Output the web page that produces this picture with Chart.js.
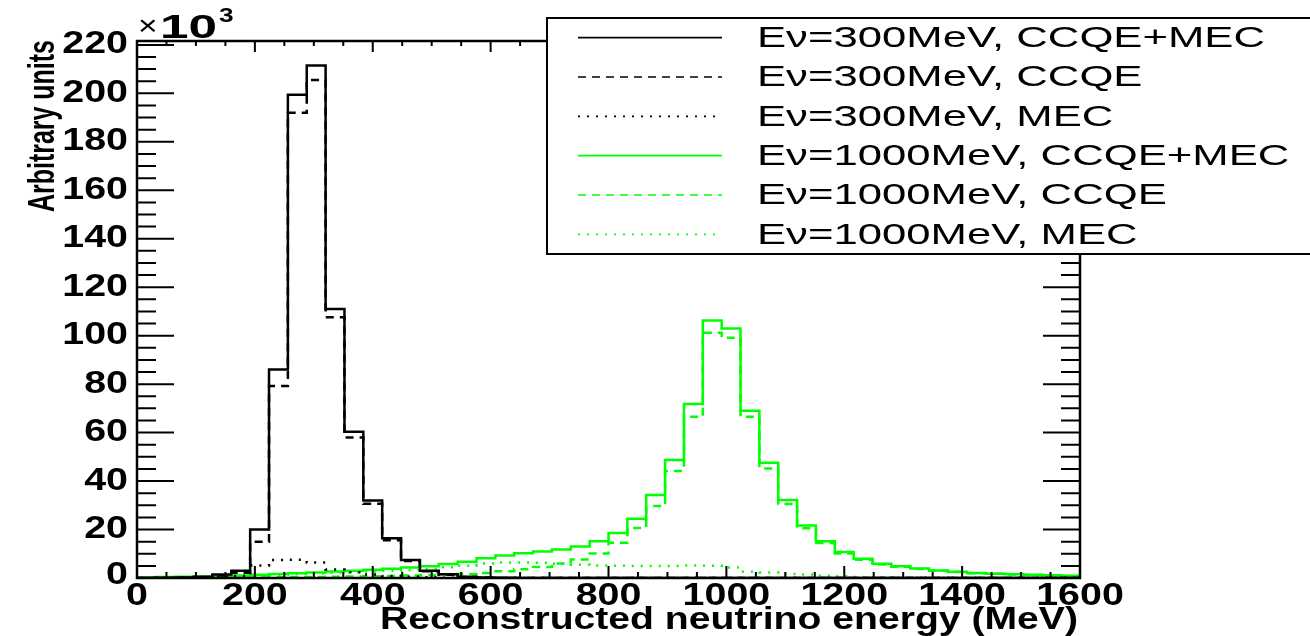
<!DOCTYPE html>
<html>
<head>
<meta charset="utf-8">
<script src="https://cdn.jsdelivr.net/npm/chart.js@4.4.1/dist/chart.umd.min.js"></script>
<style>
  body { margin: 0; background: #fff; }
  canvas { display: block; }
</style>
</head>
<body>
<canvas id="spectrum" width="1310" height="636"></canvas>
<script>
// bin edges of the reconstructed energy histograms (MeV), 50 bins of 32 MeV
const binEdges = [0, 32, 64, 96, 128, 160, 192, 224, 256, 288, 320, 352, 384, 416, 448, 480,
  512, 544, 576, 608, 640, 672, 704, 736, 768, 800, 832, 864, 896, 928, 960, 992,
  1024, 1056, 1088, 1120, 1152, 1184, 1216, 1248, 1280, 1312, 1344, 1376, 1408, 1440,
  1472, 1504, 1536, 1568, 1600];

// bin contents, units of 10^3
const e300Total = [0, 0.1, 0.2, 0.5, 1.4, 3.0, 20.0, 86.0, 199.4, 211.5,
  111.0, 60.4, 32.0, 16.4, 7.4, 3.0, 1.5, 0.5, 0.2, 0.1,
  0, 0, 0, 0, 0, 0, 0, 0, 0, 0, 0, 0, 0, 0, 0, 0, 0, 0, 0, 0,
  0, 0, 0, 0, 0, 0, 0, 0, 0, 0];
const e300Ccqe = [0, 0.05, 0.15, 0.3, 1.0, 2.2, 15.0, 79.2, 192.0, 205.5,
  107.6, 58.0, 30.6, 15.6, 7.0, 2.8, 1.35, 0.45, 0.15, 0.05,
  0, 0, 0, 0, 0, 0, 0, 0, 0, 0, 0, 0, 0, 0, 0, 0, 0, 0, 0, 0,
  0, 0, 0, 0, 0, 0, 0, 0, 0, 0];
const e300Mec = [0, 0.02, 0.05, 0.2, 0.4, 0.8, 5.2, 7.4, 7.5, 6.4,
  3.5, 2.4, 1.4, 0.8, 0.5, 0.3, 0.15, 0.08, 0.04, 0.02,
  0, 0, 0, 0, 0, 0, 0, 0, 0, 0, 0, 0, 0, 0, 0, 0, 0, 0, 0, 0,
  0, 0, 0, 0, 0, 0, 0, 0, 0, 0];

const e1000Total = [0.3, 0.4, 0.5, 0.6, 0.8, 1.0, 1.3, 1.6, 2.0, 2.3,
  2.7, 3.0, 3.4, 3.8, 4.3, 4.9, 5.8, 6.7, 8.1, 9.3,
  10.2, 10.9, 11.8, 13.0, 15.2, 18.6, 24.5, 34.2, 48.7, 71.8,
  106.3, 103.0, 69.0, 47.6, 32.2, 21.7, 15.2, 10.7, 7.9, 5.9,
  4.8, 3.9, 3.1, 2.6, 2.1, 1.8, 1.5, 1.3, 1.1, 0.9];
const e1000Ccqe = [0.05, 0.08, 0.1, 0.12, 0.15, 0.2, 0.25, 0.3, 0.4, 0.45,
  0.55, 0.65, 0.75, 0.85, 1.0, 1.2, 1.4, 1.6, 2.1, 2.8,
  3.6, 4.5, 6.0, 7.6, 10.1, 14.5, 20.6, 29.7, 44.2, 66.5,
  101.2, 99.1, 66.5, 45.2, 30.5, 20.5, 14.4, 10.1, 7.5, 5.6,
  4.6, 3.75, 3.0, 2.5, 2.0, 1.75, 1.45, 1.25, 1.05, 0.87];
const e1000Mec = [0.25, 0.32, 0.4, 0.48, 0.65, 0.8, 1.05, 1.3, 1.6, 1.85,
  2.15, 2.35, 2.65, 2.95, 3.3, 3.7, 4.4, 5.1, 6.0, 6.4,
  6.4, 6.3, 5.9, 5.5, 5.2, 5.1, 5.0, 5.0, 5.0, 5.2,
  5.1, 4.3, 2.6, 2.3, 1.6, 1.4, 0.9, 0.7, 0.45, 0.35,
  0.22, 0.16, 0.12, 0.1, 0.08, 0.06, 0.05, 0.04, 0.03, 0.03];

const seriesLabels = ['Eν=300MeV, CCQE+MEC', 'Eν=300MeV, CCQE', 'Eν=300MeV, MEC',
  'Eν=1000MeV, CCQE+MEC', 'Eν=1000MeV, CCQE', 'Eν=1000MeV, MEC'];

const xTickLabels = ['0', '200', '400', '600', '800', '1000', '1200', '1400', '1600'];
const yTickLabels = ['0', '20', '40', '60', '80', '100', '120', '140', '160', '180', '200', '220'];
const yMax = 221.6;

const GREEN = '#00ff00';
const DASH = [8, 6];
const DOT = [2, 7];

// histogram outline: one point per bin edge, last edge repeats the last bin
function histPoints(values) {
  return binEdges.map((e, i) => ({ x: e, y: values[Math.min(i, values.length - 1)] }));
}

function histSet(label, values, color, dash) {
  return {
    label: label,
    data: histPoints(values),
    borderColor: color,
    borderWidth: 2.5,
    borderDash: dash,
    stepped: true,
    fill: false,
    pointRadius: 0,
  };
}

function drawText(ctx, text, x, y, font, sx, align, baseline) {
  ctx.save();
  ctx.font = font;
  ctx.textAlign = align;
  ctx.textBaseline = baseline;
  ctx.translate(x, y);
  ctx.scale(sx, 1);
  ctx.fillText(text, 0, 0);
  ctx.restore();
}

// frame, inward ticks, labels and legend box in the ROOT look
const rootFrame = {
  id: 'rootFrame',
  afterDatasetsDraw(chart) {
    const ctx = chart.ctx;
    const a = chart.chartArea;
    const xs = chart.scales.x;
    const ys = chart.scales.y;
    ctx.save();
    ctx.strokeStyle = '#000';
    ctx.fillStyle = '#000';
    ctx.lineWidth = 2.5;
    ctx.setLineDash([]);
    ctx.strokeRect(a.left, a.top, a.right - a.left, a.bottom - a.top);

    ctx.lineWidth = 2;
    ctx.beginPath();
    // x ticks every 50 MeV, long every 200
    for (let v = 0; v <= 1600; v += 50) {
      const px = xs.getPixelForValue(v);
      const major = v % 200 === 0;
      ctx.moveTo(px, a.bottom);
      ctx.lineTo(px, a.bottom - (major ? 12 : 6));
      ctx.moveTo(px, a.top);
      ctx.lineTo(px, a.top + (major ? 11 : 5));
    }
    // y ticks every 5, long every 20
    for (let v = 0; v <= yMax; v += 5) {
      const py = ys.getPixelForValue(v);
      const major = v % 20 === 0;
      ctx.moveTo(a.left, py);
      ctx.lineTo(a.left + (major ? 37 : 19), py);
      ctx.moveTo(a.right, py);
      ctx.lineTo(a.right - (major ? 37 : 19), py);
    }
    ctx.stroke();

    const tickFont = 'bold 31px "Liberation Sans", Arial, sans-serif';
    xTickLabels.forEach(t => {
      drawText(ctx, t, xs.getPixelForValue(Number(t)), a.bottom + 3, tickFont, 1.27, 'center', 'top');
    });
    yTickLabels.forEach(t => {
      const py = ys.getPixelForValue(Number(t)) - (t === '0' ? 3 : 0);
      drawText(ctx, t, a.left - 9, py, tickFont, 1.27, 'right', 'middle');
    });

    // exponent above the y axis: thin multiply sign, bold power of ten
    const tenFont = 'bold 33px "Liberation Sans", Arial, sans-serif';
    ctx.font = tenFont;
    drawText(ctx, '×', a.left + 1, 35, '28px "Liberation Sans", Arial, sans-serif', 1.2, 'left', 'alphabetic');
    drawText(ctx, '10', a.left + 23, 38, tenFont, 57 / ctx.measureText('10').width, 'left', 'alphabetic');
    drawText(ctx, '3', a.left + 82, 22, 'bold 21px "Liberation Sans", Arial, sans-serif', 1.25, 'left', 'alphabetic');

    // axis titles, right-aligned to the axis ends
    const titleFont = 'bold 31px "Liberation Sans", Arial, sans-serif';
    ctx.font = titleFont;
    const xt = 'Reconstructed neutrino energy (MeV)';
    drawText(ctx, xt, a.right - 2, 629, titleFont, 698 / ctx.measureText(xt).width, 'right', 'alphabetic');

    const yt = 'Arbitrary units';
    const yFont = 'bold 37px "Liberation Sans", Arial, sans-serif';
    ctx.save();
    ctx.translate(54, 40);
    ctx.rotate(-Math.PI / 2);
    ctx.font = yFont;
    ctx.scale(172 / ctx.measureText(yt).width, 1);
    ctx.textAlign = 'right';
    ctx.textBaseline = 'alphabetic';
    ctx.fillText(yt, 0, 0);
    ctx.restore();

    // legend
    const box = { left: 547, top: 18, right: 1320, bottom: 254 };
    ctx.fillStyle = '#fff';
    ctx.fillRect(box.left, box.top, box.right - box.left, box.bottom - box.top);
    ctx.strokeStyle = '#000';
    ctx.lineWidth = 2;
    ctx.strokeRect(box.left, box.top, box.right - box.left, box.bottom - box.top);

    const legFont = '30px "Liberation Sans", Arial, sans-serif';
    ctx.font = legFont;
    const legSx = 508 / ctx.measureText(chart.data.datasets[0].label).width;
    const rowH = (box.bottom - box.top) / chart.data.datasets.length;
    chart.data.datasets.forEach((ds, i) => {
      const cy = box.top + rowH * (i + 0.5);
      ctx.save();
      ctx.strokeStyle = ds.borderColor;
      ctx.lineWidth = 1.6;
      ctx.setLineDash(ds.borderDash || []);
      ctx.beginPath();
      ctx.moveTo(578, cy);
      ctx.lineTo(722, cy);
      ctx.stroke();
      ctx.restore();
      ctx.fillStyle = '#000';
      drawText(ctx, ds.label, 757, cy + 1, legFont, legSx, 'left', 'middle');
    });
    ctx.restore();
  }
};

const chart = new Chart(document.getElementById('spectrum').getContext('2d'), {
  type: 'line',
  data: {
    datasets: [
      histSet(seriesLabels[0], e300Total, '#000', []),
      histSet(seriesLabels[1], e300Ccqe, '#000', DASH),
      histSet(seriesLabels[2], e300Mec, '#000', DOT),
      histSet(seriesLabels[3], e1000Total, GREEN, []),
      histSet(seriesLabels[4], e1000Ccqe, GREEN, DASH),
      histSet(seriesLabels[5], e1000Mec, GREEN, DOT),
    ],
  },
  options: {
    responsive: false,
    animation: false,
    layout: { padding: { left: 137, right: 230, top: 41, bottom: 58 } },
    scales: {
      x: { type: 'linear', min: 0, max: 1600, display: false },
      y: { type: 'linear', min: 0, max: yMax, display: false },
    },
    plugins: { legend: { display: false }, tooltip: { enabled: false } },
  },
  plugins: [rootFrame],
});
</script>
</body>
</html>
